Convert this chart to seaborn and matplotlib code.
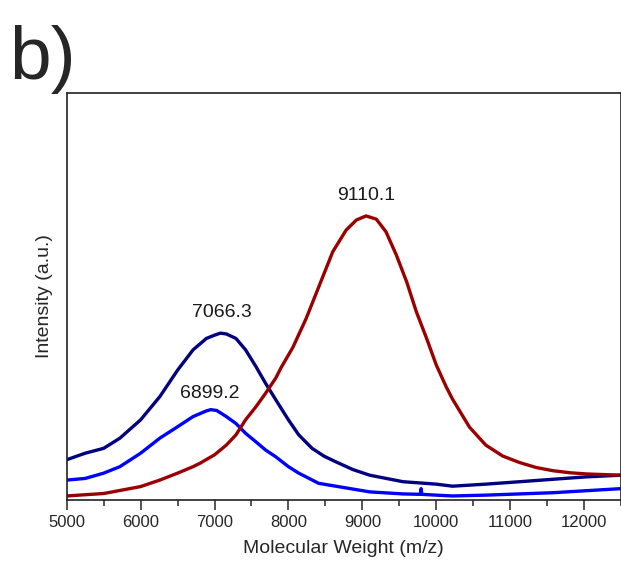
import numpy as np
import pandas as pd
import matplotlib
matplotlib.use("Agg")
import matplotlib.pyplot as plt
from matplotlib.ticker import MultipleLocator
import seaborn as sns

mz_navy = [5000, 5250, 5500, 5720, 6000, 6260, 6500, 6710, 6890, 7000, 7080, 7160,
           7290, 7420, 7560, 7690, 7830, 8000, 8140, 8320, 8480, 8640, 8870, 9100,
           9550, 10000, 10220, 10670, 11130, 11580, 12040, 12500]
int_navy = [9.9, 11.5, 12.7, 15.2, 19.7, 25.4, 31.9, 36.9, 39.7, 40.5, 41.0, 40.8,
            39.7, 36.9, 32.8, 28.7, 24.6, 19.7, 16.0, 12.7, 10.8, 9.4, 7.5, 6.1,
            4.5, 3.9, 3.4, 3.9, 4.5, 5.1, 5.7, 6.1]

mz_blue = [5000, 5250, 5500, 5720, 6000, 6260, 6500, 6710, 6890, 6950, 7030, 7160,
           7290, 7420, 7560, 7690, 7830, 8000, 8140, 8410, 8640, 9100, 9550, 9785,
           9795, 9805, 10000, 10220, 10670, 11130, 11580, 12040, 12500]
int_blue = [4.9, 5.3, 6.6, 8.2, 11.5, 15.2, 18.0, 20.5, 21.9, 22.2, 22.0, 20.5,
            18.8, 16.4, 14.3, 12.3, 10.6, 8.2, 6.6, 4.1, 3.4, 2.0, 1.5, 1.4,
            2.8, 1.4, 1.2, 1.0, 1.2, 1.5, 1.8, 2.3, 2.8]

mz_red = [5000, 5500, 6000, 6260, 6500, 6710, 6800, 7000, 7160, 7290, 7420, 7560,
          7690, 7830, 7900, 8060, 8240, 8420, 8600, 8780, 8920, 9050, 9190, 9320,
          9460, 9600, 9730, 9870, 10000, 10135, 10220, 10450, 10670, 10900, 11130,
          11350, 11580, 11810, 12040, 12500]
int_red = [1.0, 1.6, 3.3, 4.9, 6.6, 8.2, 9.0, 11.1, 13.5, 16.0, 19.7, 22.9,
           26.2, 30.0, 32.5, 37.5, 44.6, 52.8, 61.0, 66.3, 68.8, 69.8, 69.0, 65.9,
           60.2, 53.6, 46.3, 39.7, 33.2, 27.8, 24.8, 17.9, 13.5, 10.8, 9.2,
           8.0, 7.2, 6.7, 6.4, 6.1]

peak_labels = ["7066.3", "6899.2", "9110.1"]
peak_x = [7099, 6937, 9058]
peak_y = [45.0, 25.1, 73.7]

series = ["navy", "blue", "red"]
cores = {"navy": "#000080", "blue": "#0000FF", "red": "#9B0000"}

df = pd.concat([
    pd.DataFrame({"mz": mz_navy, "I": int_navy, "s": "navy"}),
    pd.DataFrame({"mz": mz_blue, "I": int_blue, "s": "blue"}),
    pd.DataFrame({"mz": mz_red, "I": int_red, "s": "red"}),
], ignore_index=True)

sns.set_style("ticks")
plt.rcParams["font.family"] = ["Liberation Sans", "DejaVu Sans"]

fig = plt.figure(figsize=(6.21, 5.65), dpi=100)
ax = fig.add_axes([0.1074, 0.115, 0.8926, 0.7204])
sns.lineplot(data=df, x="mz", y="I", hue="s", palette=cores, hue_order=series,
             lw=2.4, legend=False, estimator=None, ax=ax)

for t, x, y in zip(peak_labels, peak_x, peak_y):
    ax.text(x, y, t, ha="center", va="baseline", fontsize=14, color="#1a1a1a")

ax.set_xlim(5000, 12500); ax.set_ylim(0, 100)
ax.xaxis.set_minor_locator(MultipleLocator(500))
ax.set_xticks(range(5000, 12001, 1000))
ax.tick_params(axis="x", which="major", length=7, width=1.1, labelsize=12, direction="out", pad=4)
ax.tick_params(axis="x", which="minor", length=4.5, width=1.1, direction="out")
ax.set_yticks([])
for sp in ax.spines.values():
    sp.set_visible(True); sp.set_linewidth(1.2); sp.set_color("#222222")
ax.set_xlabel("Molecular Weight (m/z)", fontsize=14, labelpad=7)
ax.set_ylabel("Intensity (a.u.)", fontsize=14, labelpad=10)

fig.text(9 / 621, 1 - 79 / 565, "b)", fontsize=54, ha="left", va="baseline")

plt.savefig("out.png", dpi=100)
plt.close()
